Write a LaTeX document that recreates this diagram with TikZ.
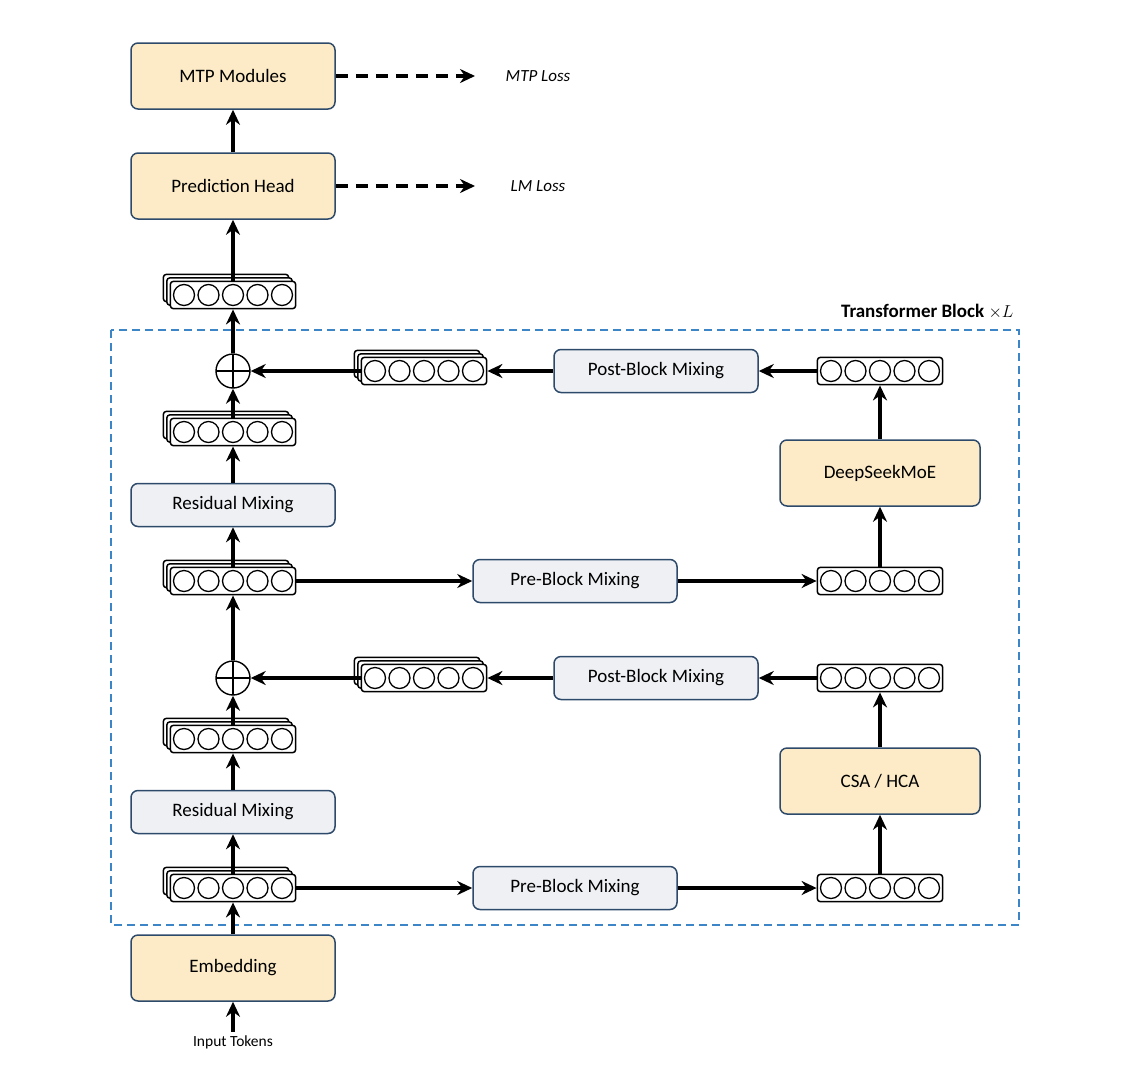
\documentclass[tikz,border=0pt]{standalone}
\usepackage{fontspec}
\setmainfont{Carlito}
\usetikzlibrary{arrows.meta,positioning,shadows,calc}

\definecolor{boxyellow}{HTML}{FCEBC6}
\definecolor{boxgray}{HTML}{EEF0F4}
\definecolor{boxline}{HTML}{2E4A6B}
\definecolor{blockline}{HTML}{3C86C8}

\newcommand{\fivecircles}{\tikz\foreach \k in {0,...,4} \draw[line width=1.3pt] (\k*24.5pt,0) circle (10.5pt);}

\tikzset{
    yellowbox/.style={draw=boxline, line width=1.5pt, rounded corners=7pt, fill=boxyellow, minimum width=204pt, minimum height=66pt, font=\fontsize{19}{22}\selectfont},
    graybox/.style={draw=boxline, line width=1.5pt, rounded corners=7pt, fill=boxgray, minimum width=204pt, minimum height=43pt, font=\fontsize{19}{22}\selectfont},
    onevec/.style={draw, line width=1.5pt, rounded corners=3pt, fill=white, inner sep=2.5pt},
    stackvec/.style={onevec, double copy shadow={shadow xshift=-3.5pt, shadow yshift=3.5pt, draw, line width=1.5pt, fill=white}},
    plus/.style={draw, line width=1.4pt, circle, minimum size=34pt, path picture={
        \draw[line width=1.4pt] (path picture bounding box.north) -- (path picture bounding box.south)
              (path picture bounding box.west) -- (path picture bounding box.east);}},
    arr/.style={-{Stealth[length=15pt,width=14pt]}, line width=3.6pt},
    dasharr/.style={arr, dash pattern=on 12pt off 8pt}
}

\begin{document}
\begin{tikzpicture}[x=1pt,y=-1pt]
    \useasboundingbox (0,0) rectangle (1122,1066);

    % top outputs
    \node[yellowbox] (mtp) at (233,76) {MTP Modules};
    \node[yellowbox] (head) at (233,186) {Prediction Head};
    \node[font=\itshape\fontsize{17}{20}\selectfont] (mtploss) at (538,76) {MTP Loss};
    \node[font=\itshape\fontsize{17}{20}\selectfont] (lmloss) at (538,186) {LM Loss};
    \coordinate (mtpend) at (475,76);
    \coordinate (lmend) at (475,186);
    \node[stackvec] (out) at (233,295) {\fivecircles};

    % transformer block
    \draw[blockline, line width=1.5pt, dash pattern=on 8pt off 5pt] (111,330) rectangle (1019,925);
    \node[anchor=south east, font=\bfseries\fontsize{19}{22}\selectfont] (blk) at (1017,322) {Transformer Block $\times L$};

    % upper half
    \node[plus] (sumB) at (233,371) {};
    \node[stackvec] (postsB) at (424,371) {\fivecircles};
    \node[graybox] (postB) at (656,371) {Post-Block Mixing};
    \node[onevec] (moeout) at (880,371) {\fivecircles};
    \node[yellowbox, minimum width=200pt] (moe) at (880,473) {DeepSeekMoE};
    \node[onevec] (moein) at (880,581) {\fivecircles};
    \node[graybox] (preB) at (575,581) {Pre-Block Mixing};
    \node[stackvec] (hB) at (233,581) {\fivecircles};
    \node[graybox] (resB) at (233,505) {Residual Mixing};
    \node[stackvec] (rB) at (233,432) {\fivecircles};

    % lower half
    \node[plus] (sumA) at (233,678) {};
    \node[stackvec] (postsA) at (424,678) {\fivecircles};
    \node[graybox] (postA) at (656,678) {Post-Block Mixing};
    \node[onevec] (attout) at (880,678) {\fivecircles};
    \node[yellowbox, minimum width=200pt] (att) at (880,781) {CSA / HCA};
    \node[onevec] (attin) at (880,888) {\fivecircles};
    \node[graybox] (preA) at (575,888) {Pre-Block Mixing};
    \node[stackvec] (hA) at (233,888) {\fivecircles};
    \node[graybox] (resA) at (233,812) {Residual Mixing};
    \node[stackvec] (rA) at (233,739) {\fivecircles};

    % input
    \node[yellowbox] (emb) at (233,968) {Embedding};
    \node[font=\fontsize{15.5}{18}\selectfont] (tok) at (233,1042) {Input Tokens};

    % connectors
    \draw[arr] (tok) -- (emb);
    \draw[arr] (emb.north) -- (emb.north |- hA.south);
    \draw[arr] (emb.north |- hA.north) -- (resA);
    \draw[arr] (hA) -- (preA);
    \draw[arr] (preA) -- (attin);
    \draw[arr] (attin) -- (att);
    \draw[arr] (att) -- (attout);
    \draw[arr] (attout) -- (postA);
    \draw[arr] (postA) -- (postsA);
    \draw[arr] (postsA) -- (sumA);
    \draw[arr] (resA) -- (resA |- rA.south);
    \draw[arr] (resA |- rA.north) -- (sumA);
    \draw[arr] (sumA) -- (sumA |- hB.south);
    \draw[arr] (sumA |- hB.north) -- (resB);
    \draw[arr] (hB) -- (preB);
    \draw[arr] (preB) -- (moein);
    \draw[arr] (moein) -- (moe);
    \draw[arr] (moe) -- (moeout);
    \draw[arr] (moeout) -- (postB);
    \draw[arr] (postB) -- (postsB);
    \draw[arr] (postsB) -- (sumB);
    \draw[arr] (resB) -- (resB |- rB.south);
    \draw[arr] (resB |- rB.north) -- (sumB);
    \draw[arr] (sumB) -- (sumB |- out.south);
    \draw[arr] (sumB |- out.north) -- (head);
    \draw[arr] (head) -- (mtp);
    \draw[dasharr] (head.east) -- (lmend);
    \draw[dasharr] (mtp.east) -- (mtpend);
\end{tikzpicture}
\end{document}
